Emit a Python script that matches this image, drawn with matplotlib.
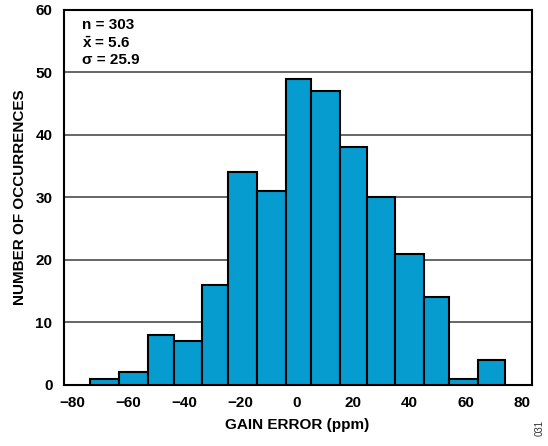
import numpy as np
import matplotlib.pyplot as plt

plt.rcParams['font.family'] = ['Liberation Sans', 'DejaVu Sans']
plt.rcParams['mathtext.fontset'] = 'custom'
plt.rcParams['mathtext.rm'] = 'Liberation Sans'
plt.rcParams['mathtext.bf'] = 'Liberation Sans:bold'

# bin edges (ppm) as drawn, and counts per bin
bin_edges = [-73.6, -63.3, -53.0, -43.8, -33.6, -24.5, -14.2, -3.8,
             5.2, 15.5, 24.8, 35.0, 45.2, 54.2, 64.4, 73.9]
counts = [1, 2, 8, 7, 16, 34, 31, 49, 47, 38, 30, 21, 14, 1, 4]
x_ticks = [-80, -60, -40, -20, 0, 20, 40, 60, 80]
y_ticks = [0, 10, 20, 30, 40, 50, 60]
stats = ["n = 303", r"$\mathbf{\bar{x}}$ = 5.6", "\u03c3 = 25.9"]

fig = plt.figure(figsize=(5.48, 4.46), dpi=100)
ax = fig.add_axes([0.116, 0.137, 0.854, 0.841])

edges = np.array(bin_edges)
widths = np.diff(edges)
ax.bar(edges[:-1], counts, width=widths, align='edge', color='#069ccf',
       edgecolor='black', linewidth=1.5, zorder=3)

for y in y_ticks[1:-1]:
    ax.axhline(y, color='#4d4d4d', linewidth=1.2, zorder=1)

ax.set_xlim(-83, 83.5)
ax.set_ylim(0, 60)
ax.set_xticks(x_ticks)
ax.set_xticklabels([f"\u2212{abs(v)}" if v < 0 else str(v) for v in x_ticks])
ax.set_yticks(y_ticks)
ax.tick_params(length=0, labelsize=11, pad=8)
for lab in ax.get_xticklabels() + ax.get_yticklabels():
    lab.set_fontweight('bold')

for s in ax.spines.values():
    s.set_linewidth(1.5)

ax.set_xlabel("GAIN ERROR (ppm)", fontsize=11, fontweight='bold', labelpad=6)
ax.set_ylabel("NUMBER OF OCCURRENCES", fontsize=11, fontweight='bold', labelpad=6)

for i, s in enumerate(stats):
    ax.text(0.04, 0.978 - i * 0.047, s, transform=ax.transAxes, fontsize=11,
            fontweight='bold', va='top', ha='left')

fig.text(0.985, 0.04, "031", rotation=90, fontsize=7, color='#333333',
         ha='center', va='center')

fig.savefig("out.png", dpi=100)
